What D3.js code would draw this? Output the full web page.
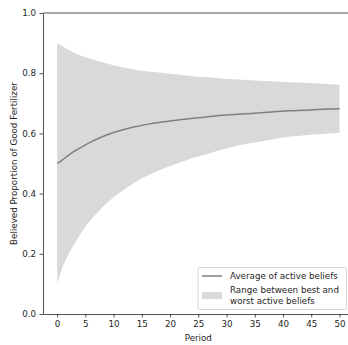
<!DOCTYPE html>
<html>
<head>
<meta charset="utf-8">
<script src="https://cdn.jsdelivr.net/npm/d3@7"></script>
<style>
  html, body { margin: 0; padding: 0; background: #fff; }
  svg text { font-family: "DejaVu Sans", sans-serif; fill: #262626; }
</style>
</head>
<body>
<div id="chart"></div>
<script>
// values
const periods = [0, 1, 2, 3, 4, 5, 6, 8, 10, 12, 14, 16, 18, 20, 22, 24, 26, 28, 30, 32, 35, 38, 41, 44, 47, 50];
const bestBelief = [0.900, 0.889, 0.878, 0.868, 0.860, 0.853, 0.847, 0.836, 0.826, 0.818, 0.811, 0.806, 0.802,
                    0.798, 0.794, 0.790, 0.787, 0.784, 0.781, 0.779, 0.776, 0.773, 0.770, 0.768, 0.765, 0.762];
const avgBelief = [0.500, 0.513, 0.527, 0.540, 0.551, 0.562, 0.572, 0.589, 0.603, 0.614, 0.623, 0.630, 0.636,
                   0.641, 0.646, 0.650, 0.654, 0.658, 0.661, 0.664, 0.667, 0.671, 0.675, 0.677, 0.680, 0.682];
const worstBelief = [0.100, 0.157, 0.198, 0.232, 0.262, 0.290, 0.313, 0.355, 0.388, 0.415, 0.440, 0.460, 0.477,
                     0.492, 0.505, 0.518, 0.528, 0.540, 0.550, 0.560, 0.570, 0.580, 0.589, 0.594, 0.598, 0.602];
const xTicks = [0, 5, 10, 15, 20, 25, 30, 35, 40, 45, 50];
const yTicks = [0, 0.2, 0.4, 0.6, 0.8, 1.0];
const legendLabels = ["Average of active beliefs", ["Range between best and", "worst active beliefs"]];

const W = 348, H = 345;

const data = periods.map((p, i) => ({ p: p, hi: bestBelief[i], mid: avgBelief[i], lo: worstBelief[i] }));

const x = d3.scaleLinear().domain([-2.5, 52.5]).range([43, 353.6]);
const y = d3.scaleLinear().domain([0, 1]).range([314, 13]);

const svg = d3.select("#chart").append("svg")
    .attr("width", W).attr("height", H);

// pick font size so the legend's first entry is ~108px wide, as in the reference
const probe = svg.append("text").attr("font-size", 10).text(legendLabels[0]);
const fs = 10 * 108 / probe.node().getComputedTextLength();
probe.remove();

// band
svg.append("path")
    .datum(data)
    .attr("fill", "#d9d9d9")
    .attr("d", d3.area().x(d => x(d.p)).y0(d => y(d.lo)).y1(d => y(d.hi)).curve(d3.curveMonotoneX));

// average line
svg.append("path")
    .datum(data)
    .attr("fill", "none")
    .attr("stroke", "#808080")
    .attr("stroke-width", 1.5)
    .attr("d", d3.line().x(d => x(d.p)).y(d => y(d.mid)).curve(d3.curveMonotoneX));

// axes
const xAxis = svg.append("g")
    .attr("transform", `translate(0, ${y(0)})`)
    .call(d3.axisBottom(x).tickValues(xTicks).tickSize(3.5).tickPadding(3.5).tickSizeOuter(0));
const yAxis = svg.append("g")
    .attr("transform", `translate(${x(-2.5)}, 0)`)
    .call(d3.axisLeft(y).tickValues(yTicks).tickFormat(d3.format(".1f")).tickSize(3.5).tickPadding(3.5).tickSizeOuter(0));
svg.append("line")
    .attr("x1", x(-2.5)).attr("x2", x(52.5))
    .attr("y1", y(1)).attr("y2", y(1))
    .attr("stroke", "#262626").attr("stroke-width", 0.8);
svg.append("line")
    .attr("x1", x(52.5)).attr("x2", x(52.5))
    .attr("y1", y(1)).attr("y2", y(0))
    .attr("stroke", "#262626").attr("stroke-width", 0.8);

[xAxis, yAxis].forEach(g => {
    g.selectAll(".domain").attr("stroke", "#262626").attr("stroke-width", 0.8);
    g.selectAll(".tick line").attr("stroke", "#262626").attr("stroke-width", 0.8);
    g.selectAll(".tick text").attr("font-size", fs).attr("font-family", "DejaVu Sans").attr("fill", "#262626");
});

// axis labels
svg.append("text")
    .attr("x", x(25)).attr("y", 340.5)
    .attr("text-anchor", "middle")
    .attr("font-size", fs)
    .text("Period");
svg.append("text")
    .attr("transform", `translate(13.5, ${(y(0) + y(1)) / 2}) rotate(-90)`)
    .attr("text-anchor", "middle")
    .attr("dominant-baseline", "central")
    .attr("font-size", fs)
    .text("Believed Proportion of Good Fertilizer");

// legend
const lg = svg.append("g");
lg.append("rect")
    .attr("x", 198).attr("y", 267.5).attr("width", 148.5).attr("height", 42)
    .attr("rx", 2).attr("fill", "#fff").attr("fill-opacity", 0.8)
    .attr("stroke", "#cccccc").attr("stroke-width", 0.8);
lg.append("line")
    .attr("x1", 202).attr("x2", 222).attr("y1", 276).attr("y2", 276)
    .attr("stroke", "#808080").attr("stroke-width", 1.5);
lg.append("text")
    .attr("x", 230).attr("y", 276).attr("dominant-baseline", "central")
    .attr("font-size", fs).text(legendLabels[0]);
lg.append("rect")
    .attr("x", 202).attr("y", 292).attr("width", 20).attr("height", 7)
    .attr("fill", "#d9d9d9");
legendLabels[1].forEach((t, i) => {
    lg.append("text")
        .attr("x", 230).attr("y", 289.5 + i * 11).attr("dominant-baseline", "central")
        .attr("font-size", fs).text(t);
});
</script>
</body>
</html>
